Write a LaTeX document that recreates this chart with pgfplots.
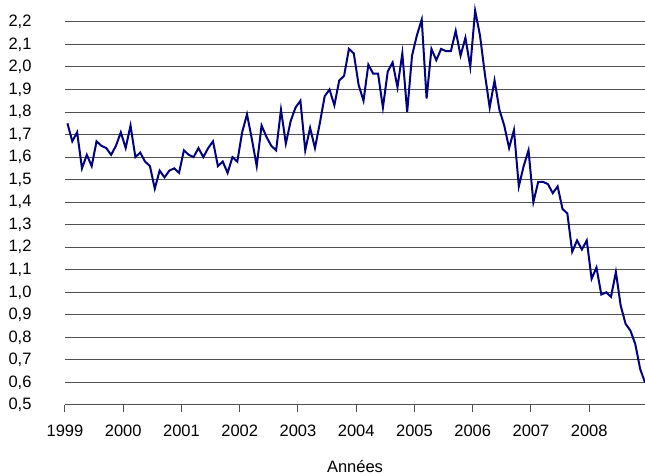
\documentclass[border=0pt]{standalone}
\usepackage{pgfplots}
\pgfplotsset{compat=1.18}
\usepackage{fontspec}
\setmainfont{Liberation Sans}
\definecolor{navyline}{RGB}{0,0,128}
\definecolor{gridc}{RGB}{80,80,80}
\begin{document}
\begin{tikzpicture}
\useasboundingbox (-65pt,-71pt) rectangle (580pt,405pt);
\begin{axis}[
  at={(0pt,0pt)}, anchor=south west,
  width=580pt, height=394.4pt, scale only axis,
  xmin=0, xmax=119.5, ymin=0.5, ymax=2.25,
  clip=false,
  font=\fontsize{16.5}{19}\selectfont,
  /pgf/number format/assume math mode=true,
  separate axis lines,
  axis x line*=bottom, axis y line*=left,
  x axis line style={draw=gridc, line width=1pt, -},
  y axis line style={draw=none},
  xtick={0,12,24,36,48,60,72,84,96,108},
  xticklabels={1999,2000,2001,2002,2003,2004,2005,2006,2007,2008},
  xtick style={draw=gridc, line width=1pt},
  tick align=outside, major tick length=7pt,
  ytick={0.5,0.6,0.7,0.8,0.9,1.0,1.1,1.2,1.3,1.4,1.5,1.6,1.7,1.8,1.9,2.0,2.1,2.2},
  ytick style={draw=none},
  yticklabel style={/pgf/number format/use comma, /pgf/number format/fixed, /pgf/number format/fixed zerofill, /pgf/number format/precision=1, xshift=-23pt},
  xticklabel style={yshift=-9pt},
  ymajorgrids,
  grid style={draw=gridc, line width=1pt},
  xlabel={Années},
  xlabel style={at={(axis description cs:0.5,0)}, anchor=north, yshift=-52pt},
]
\addplot[navyline, line width=2pt, mark=none] table[x expr=\thisrowno{0}+0.5, y index=1] {
0 1.75
1 1.67
2 1.71
3 1.55
4 1.61
5 1.56
6 1.67
7 1.65
8 1.64
9 1.61
10 1.65
11 1.71
12 1.64
13 1.74
14 1.60
15 1.62
16 1.58
17 1.56
18 1.46
19 1.54
20 1.51
21 1.54
22 1.55
23 1.53
24 1.63
25 1.61
26 1.60
27 1.64
28 1.60
29 1.64
30 1.67
31 1.56
32 1.58
33 1.53
34 1.60
35 1.58
36 1.71
37 1.79
38 1.68
39 1.56
40 1.74
41 1.69
42 1.65
43 1.63
44 1.81
45 1.66
46 1.76
47 1.82
48 1.85
49 1.63
50 1.73
51 1.64
52 1.75
53 1.87
54 1.90
55 1.83
56 1.94
57 1.96
58 2.08
59 2.06
60 1.92
61 1.85
62 2.01
63 1.97
64 1.97
65 1.82
66 1.98
67 2.02
68 1.91
69 2.06
70 1.80
71 2.05
72 2.14
73 2.21
74 1.86
75 2.08
76 2.03
77 2.08
78 2.07
79 2.07
80 2.16
81 2.05
82 2.13
83 2.00
84 2.25
85 2.14
86 1.97
87 1.82
88 1.94
89 1.81
90 1.74
91 1.64
92 1.72
93 1.47
94 1.56
95 1.63
96 1.40
97 1.49
98 1.49
99 1.48
100 1.44
101 1.47
102 1.37
103 1.35
104 1.18
105 1.23
106 1.19
107 1.23
108 1.06
109 1.11
110 0.99
111 1.00
112 0.98
113 1.09
114 0.94
115 0.86
116 0.83
117 0.77
118 0.66
119 0.60
};
\end{axis}
\end{tikzpicture}
\end{document}
